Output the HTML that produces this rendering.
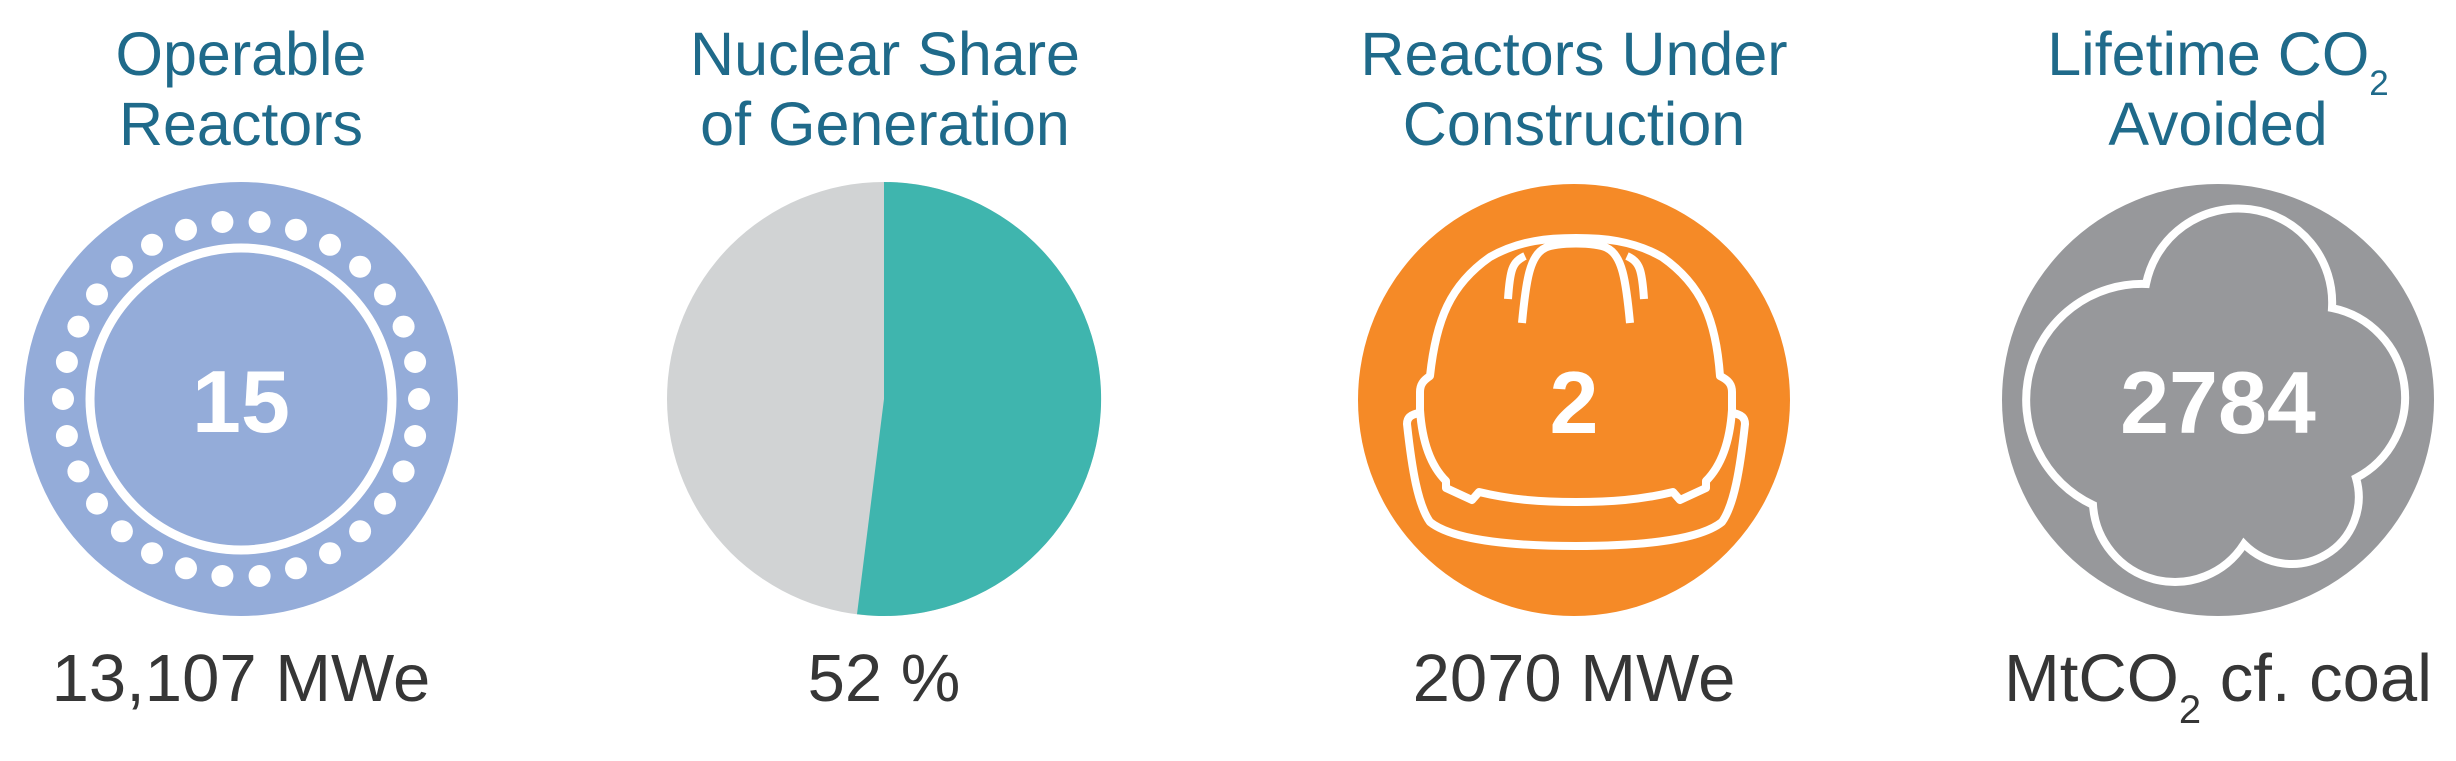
<!DOCTYPE html>
<html><head><meta charset="utf-8"><style>
html,body{margin:0;padding:0;background:#fff;}
svg{display:block;}
.t{font-family:"Liberation Sans",sans-serif;font-size:61px;fill:#1f6a8a;text-anchor:middle;}
.b{font-family:"Liberation Sans",sans-serif;font-size:67px;fill:#363636;text-anchor:middle;}
.n{font-family:"Liberation Sans",sans-serif;font-size:88px;font-weight:bold;fill:#fff;text-anchor:middle;}
</style></head><body>
<svg width="2456" height="761" viewBox="0 0 2456 761" xmlns="http://www.w3.org/2000/svg">
<text class="t" x="241" y="75">Operable</text>
<text class="t" x="241" y="145">Reactors</text>
<text class="t" x="885" y="75">Nuclear Share</text>
<text class="t" x="885" y="145">of Generation</text>
<text class="t" x="1574" y="75">Reactors Under</text>
<text class="t" x="1574" y="145">Construction</text>
<text class="t" x="2218" y="75">Lifetime CO<tspan font-size="35" dy="20">2</tspan></text>
<text class="t" x="2218" y="145">Avoided</text>

<circle cx="241" cy="399" r="217" fill="#94acd9"/>
<circle cx="241" cy="399" r="151" fill="none" stroke="#fff" stroke-width="9"/>
<g fill="#fff" id="dots"></g>
<text class="n" x="241" y="432">15</text>

<circle cx="884" cy="399" r="217" fill="#d1d3d4"/>
<path d="M884,399 L884,182 A217,217 0 1 1 857,614.3 Z" fill="#3fb5ae"/>

<circle cx="1574" cy="400" r="216" fill="#f58a27"/>
<g fill="none" stroke="#fff" stroke-width="8" stroke-linejoin="round">
<path d="M1430,376 C1436,320 1450,285 1490,257 C1520,240 1550,238 1576,238 C1602,238 1632,240 1662,257 C1702,285 1716,320 1720,376 C1728,380 1732,384 1732,392 L1732,410 C1730,440 1722,465 1706,481 L1706,488 L1680,500 L1673,492 C1640,500 1610,502 1576,502 C1542,502 1512,500 1479,492 L1472,500 L1446,488 L1446,481 C1430,465 1422,440 1420,410 L1420,392 C1420,384 1424,380 1430,376 Z"/>
<path d="M1420,413 C1412,414 1407,417 1407,424 C1412,470 1418,505 1430,522 C1450,538 1500,546 1576,546 C1652,546 1702,538 1722,522 C1734,505 1740,470 1745,424 C1745,417 1740,414 1732,413"/>
<path d="M1522,323 C1526,280 1530,255 1545,248 C1555,242 1597,242 1607,248 C1622,255 1626,280 1630,323"/>
<path d="M1508,299 C1510,270 1512,262 1525,256"/>
<path d="M1644,299 C1642,270 1640,262 1627,256"/>
</g>
<text class="n" x="1574" y="433">2</text>

<circle cx="2218" cy="400" r="216" fill="#97989b"/>
<path d="M2146,284 A94,94 0 0 1 2332,308 A91,91 0 0 1 2356,478 A67,67 0 0 1 2244,544 A82,82 0 0 1 2093,505 A116,116 0 0 1 2146,284 Z" fill="none" stroke="#fff" stroke-width="8"/>
<text class="n" x="2218" y="433">2784</text>

<text class="b" x="241" y="701">13,107 MWe</text>
<text class="b" x="884" y="701">52 %</text>
<text class="b" x="1574" y="701">2070 MWe</text>
<text class="b" x="2218" y="701">MtCO<tspan font-size="40" dy="22">2</tspan><tspan dy="-22"> cf. coal</tspan></text>
</svg>
<script>
(function(){var g=document.getElementById('dots');var s='';for(var k=0;k<30;k++){var a=(90+12*k)*Math.PI/180;var x=241+178*Math.sin(a),y=399-178*Math.cos(a);s+='<circle cx="'+x.toFixed(1)+'" cy="'+y.toFixed(1)+'" r="11"/>';}g.innerHTML=s;})();
</script>
</body></html>
